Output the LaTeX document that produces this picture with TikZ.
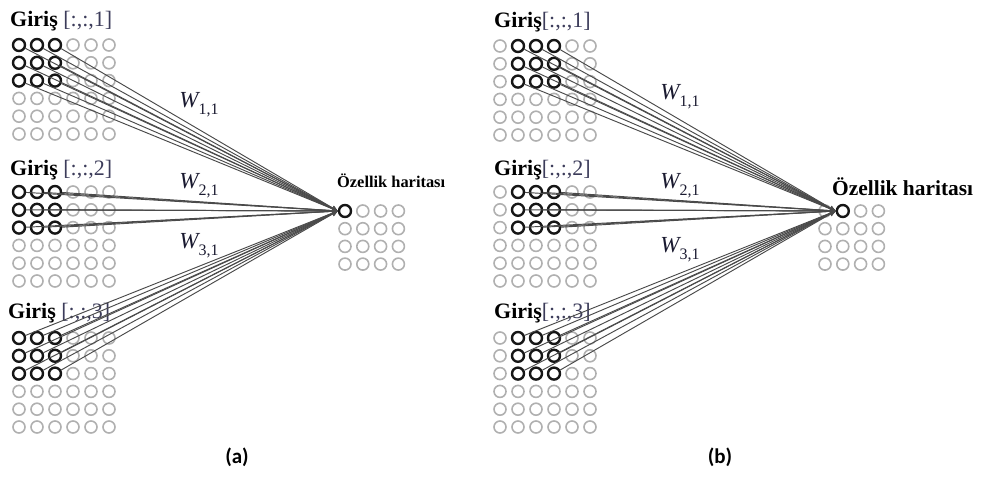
\documentclass[tikz,border=0pt]{standalone}
\usepackage{fontspec}
\setmainfont{Liberation Serif}
\newfontfamily\capfont{Carlito}
\usetikzlibrary{arrows.meta}
\definecolor{bcol}{HTML}{161616}
\definecolor{gcol}{HTML}{B0B0B0}
\definecolor{lcol}{HTML}{4A4A4A}
\definecolor{brk}{HTML}{3C3C5A}
\definecolor{wcol}{HTML}{1A1A30}
\tikzset{
  cg/.style={circle, draw=gcol, line width=1.6pt, minimum size=12pt, inner sep=0pt},
  cb/.style={circle, draw=bcol, line width=2.4pt, minimum size=12pt, inner sep=0pt},
  conn/.style={draw=lcol, line width=0.95pt, -{Stealth[length=6pt,width=5pt]}},
  ttl/.style={anchor=base west, inner sep=0pt, font=\fontsize{22}{24}\selectfont},
  wlab/.style={inner sep=0pt, text=wcol, font=\fontsize{23}{26}\selectfont},
  caplab/.style={inner sep=0pt, font=\capfont\bfseries\fontsize{21}{24}\selectfont}
}
\newcommand{\wsub}[1]{{\itshape W}\raisebox{-0.32em}{\fontsize{16}{18}\selectfont #1}}
\newcommand{\mkgrid}[4]{%
  \foreach \r in {0,...,5}{\foreach \c in {0,...,5}{%
    \pgfmathtruncatemacro{\isb}{(\r<3)*(\c>#4-1)*(\c<#4+3)}%
    \ifnum\isb=1
      \node[cb] (#1-\r-\c) at ({#2+\c*18},{#3+\r*17.8}) {};
    \else
      \node[cg] (#1-\r-\c) at ({#2+\c*18},{#3+\r*17.8}) {};
    \fi
  }}}
\newcommand{\mkfm}[4]{%
  \foreach \r in {0,...,3}{\foreach \c in {0,...,3}{%
    \pgfmathtruncatemacro{\isb}{(\r==0)*(\c==#4)}%
    \ifnum\isb=1
      \node[cb] (#1-\r-\c) at ({#2+\c*17.8},{#3+\r*17.7}) {};
    \else
      \node[cg] (#1-\r-\c) at ({#2+\c*17.8},{#3+\r*17.7}) {};
    \fi
  }}}
\newcommand{\mkconn}[3]{%
  \foreach \r in {0,1,2}{\foreach \k in {0,1,2}{%
    \pgfmathtruncatemacro{\cc}{#2+\k}%
    \draw[conn] (#1-\r-\cc) -- (#3);
  }}}
\begin{document}
\begin{tikzpicture}[x=1pt,y=-1pt]
\useasboundingbox (0,0) rectangle (984,476);
% ---------- panel (a)
\mkgrid{ga1}{19}{45}{0}
\mkgrid{ga2}{19}{192}{0}
\mkgrid{ga3}{19}{338}{0}
\mkfm{fa}{345}{211}{0}
\node[ttl] (ta1) at (10,27) {\textbf{Giriş} \textcolor{brk}{[:,:,1]}};
\node[ttl] (ta2) at (10,175) {\textbf{Giriş} \textcolor{brk}{[:,:,2]}};
\node[ttl] (ta3) at (8,318) {\textbf{Giriş} \textcolor{brk}{[:,:,3]}};
\node[anchor=base west, inner sep=0pt, font=\bfseries\fontsize{16.4}{18}\selectfont] (oa) at (337,187) {Özellik haritası};
\mkconn{ga1}{0}{fa-0-0.west}
\mkconn{ga2}{0}{fa-0-0.west}
\mkconn{ga3}{0}{fa-0-0.west}
\node[wlab] (wa1) at (199,105) {\wsub{1,1}};
\node[wlab] (wa2) at (199,186) {\wsub{2,1}};
\node[wlab] (wa3) at (199,246) {\wsub{3,1}};
\node[caplab] (capa) at (237,457) {(a)};
% ---------- panel (b)
\mkgrid{gb1}{500}{46}{1}
\mkgrid{gb2}{500}{192}{1}
\mkgrid{gb3}{500}{338}{1}
\mkfm{fb}{825}{211}{1}
\node[ttl] (tb1) at (494,28) {\textbf{Giriş}\textcolor{brk}{[:,:,1]}};
\node[ttl] (tb2) at (494,175) {\textbf{Giriş}\textcolor{brk}{[:,:,2]}};
\node[ttl] (tb3) at (494,318) {\textbf{Giriş}\textcolor{brk}{[:,:,3]}};
\node[anchor=base west, inner sep=0pt, font=\bfseries\fontsize{21.4}{24}\selectfont] (ob) at (832,195) {Özellik haritası};
\mkconn{gb1}{1}{fb-0-1.west}
\mkconn{gb2}{1}{fb-0-1.west}
\mkconn{gb3}{1}{fb-0-1.west}
\node[wlab] (wb1) at (680,97) {\wsub{1,1}};
\node[wlab] (wb2) at (680,186) {\wsub{2,1}};
\node[wlab] (wb3) at (680,250) {\wsub{3,1}};
\node[caplab] (capb) at (720,457) {(b)};
\end{tikzpicture}
\end{document}
